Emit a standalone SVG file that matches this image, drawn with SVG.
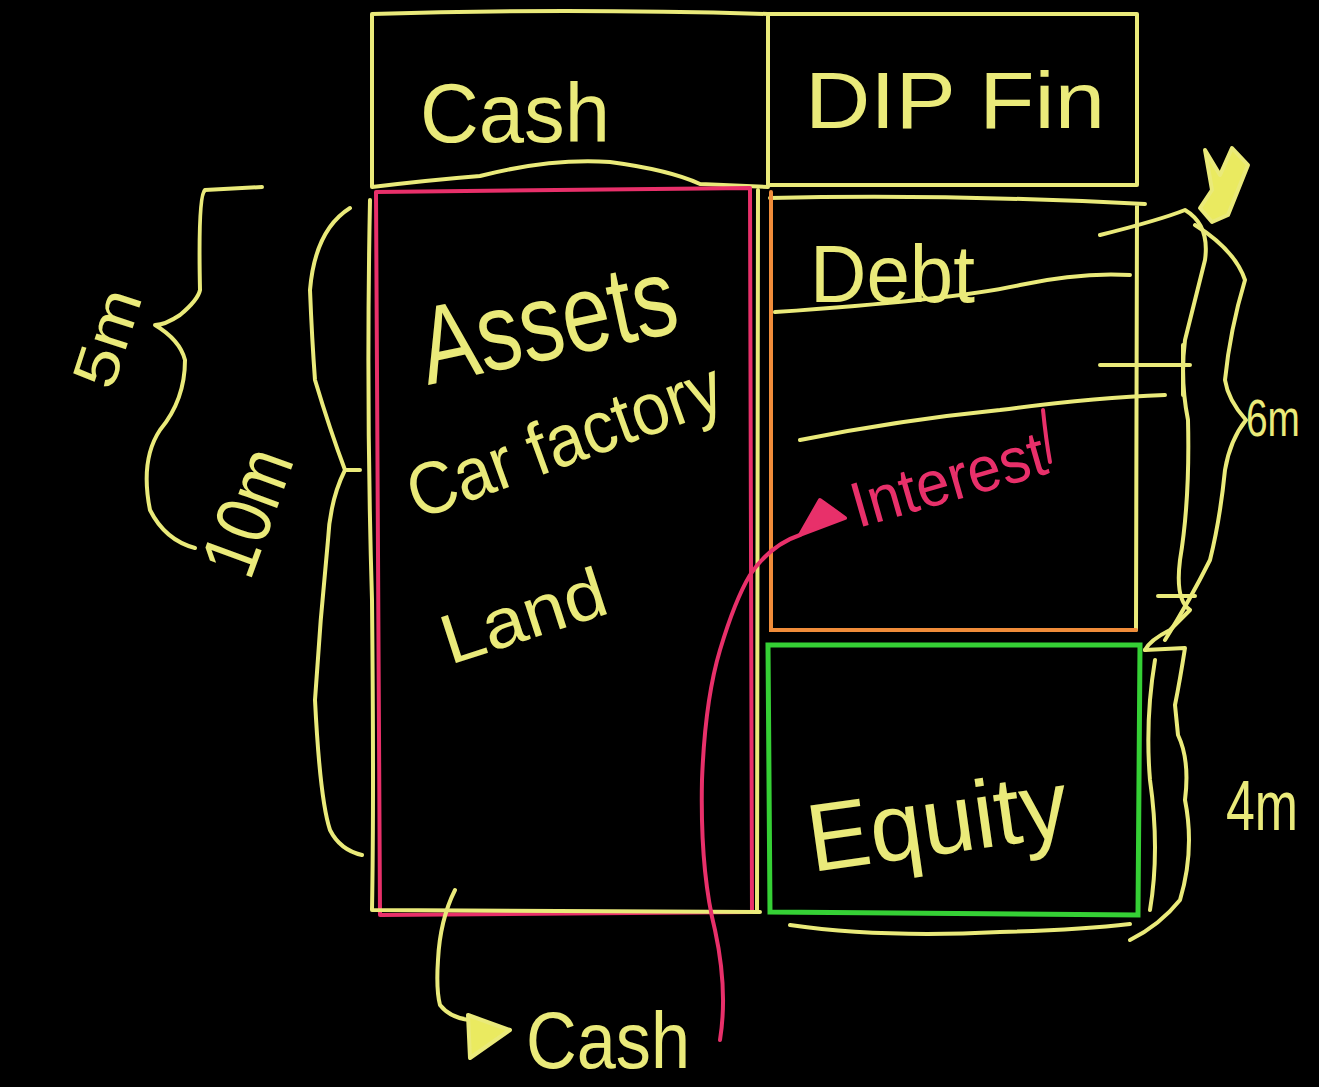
<svg xmlns="http://www.w3.org/2000/svg" width="1319" height="1087" viewBox="0 0 1319 1087">
<defs>
<style>
.y{fill:none;stroke:#eaea7a;stroke-width:4;stroke-linecap:round;stroke-linejoin:round}
.p{fill:none;stroke:#e8306a;stroke-width:4;stroke-linecap:round;stroke-linejoin:round}
.o{fill:none;stroke:#f08c3a;stroke-width:4;stroke-linecap:round}
.g{fill:none;stroke:#35d035;stroke-width:5;stroke-linecap:round}
.fy{fill:#eaea60}
.fp{fill:#e8306a}
.t{font-family:"Liberation Sans","DejaVu Sans",sans-serif;fill:#eaea7a}
.tp{font-family:"Liberation Sans","DejaVu Sans",sans-serif;fill:#e8306a}
</style>
</defs>
<rect width="1319" height="1087" fill="#000"/>

<g id="top-box">
<path class="y" d="M372,14 Q560,8 768,14 L1137,14 L1137,185 L770,185 M768,14 L768,185 M372,14 L372,187 Q430,180 480,176 Q550,158 610,162 Q670,170 700,184 L768,187"/>
<text class="t" x="420" y="142" font-size="84" textLength="190" lengthAdjust="spacingAndGlyphs">Cash</text>
<text class="t" x="805" y="128" font-size="80" textLength="300" lengthAdjust="spacingAndGlyphs">DIP Fin</text>
</g>

<g id="assets">
<path class="p" stroke-width="6" d="M376,192 L750,188 L752,912 L380,915 Z"/>
<path class="y" stroke-width="3" d="M370,200 Q366,400 372,600 Q374,800 372,910 L760,912 M758,190 L757,912"/>
<text class="t" font-size="110" transform="translate(428,385) rotate(-12)" textLength="260" lengthAdjust="spacingAndGlyphs">Assets</text>
<text class="t" font-size="74" transform="translate(418,520) rotate(-20)" textLength="330" lengthAdjust="spacingAndGlyphs">Car factory</text>
<text class="t" font-size="70" transform="translate(450,665) rotate(-18)" textLength="170" lengthAdjust="spacingAndGlyphs">Land</text>
</g>

<g id="debt">
<path class="y" d="M770,198 Q950,194 1145,204 M1137,204 L1136,630"/>
<path class="o" d="M771,192 L771,630 L1136,630"/>
<path class="y" d="M775,312 Q950,300 1020,285 Q1080,272 1130,275"/>
<path class="y" d="M800,440 Q900,420 1000,410 Q1090,398 1165,395"/>
<text class="t" x="810" y="302" font-size="82" textLength="165" lengthAdjust="spacingAndGlyphs">Debt</text>
<text class="tp" font-size="64" transform="translate(858,528) rotate(-16)" textLength="200" lengthAdjust="spacingAndGlyphs">Interest</text>
<path class="p" stroke-width="3" d="M1043,410 Q1046,440 1050,462"/>
</g>

<g id="equity">
<path class="g" d="M768,645 L1140,645 L1138,915 L770,912 Z"/>
<path class="y" d="M790,925 Q880,938 1000,932 Q1080,930 1130,924"/>
<text class="t" font-size="96" transform="translate(812,872) rotate(-8)" textLength="262" lengthAdjust="spacingAndGlyphs">Equity</text>
</g>

<g id="labels">
<text class="t" font-size="62" transform="translate(112,392) rotate(-72)" textLength="100" lengthAdjust="spacingAndGlyphs">5m</text>
<text class="t" font-size="78" transform="translate(250,582) rotate(-70)" textLength="130" lengthAdjust="spacingAndGlyphs">10m</text>
<text class="t" font-size="52" x="1246" y="436" textLength="54" lengthAdjust="spacingAndGlyphs">6m</text>
<text class="t" font-size="58" transform="translate(1226,830) scale(1,1.2)" textLength="72" lengthAdjust="spacingAndGlyphs">4m</text>
<text class="t" font-size="80" x="526" y="1068" textLength="164" lengthAdjust="spacingAndGlyphs">Cash</text>
</g>

<g id="connectors">
<path class="y" d="M262,187 L205,190 Q198,195 200,290 Q198,300 180,315 Q165,325 155,325 Q180,340 185,360 Q185,400 160,430 Q140,460 150,510 Q165,540 195,548"/>
<path class="y" d="M350,208 Q315,230 310,290 Q312,340 315,380 Q330,430 345,470 L360,470 M345,470 Q330,500 328,540 Q320,620 315,700 Q320,800 330,830 Q340,850 362,855"/>
<path class="y" d="M1100,235 Q1160,220 1185,210 Q1210,225 1205,260 Q1195,300 1185,340 Q1180,380 1188,420 Q1190,500 1180,560 Q1175,600 1190,610 L1170,630 Q1150,640 1145,650"/>
<path class="y" d="M1195,225 Q1235,250 1245,280 Q1230,330 1225,380 Q1228,400 1246,420 Q1230,440 1225,470 Q1220,520 1210,560 Q1190,600 1165,640"/>
<path class="y" d="M1100,365 L1190,365 M1183,345 L1183,395 M1158,596 L1195,596"/>
<path class="y fy" stroke-width="5" d="M1205,150 L1220,175 L1232,148 L1248,165 L1238,190 L1228,215 L1212,222 L1200,208 L1212,190 Z"/>
<path class="y" d="M1145,650 L1185,648 Q1180,680 1175,705 L1178,735 Q1190,760 1185,800 Q1195,850 1180,900 Q1160,925 1130,940"/>
<path class="y" d="M1155,660 Q1145,720 1150,780 Q1160,850 1150,910"/>
<path class="y" d="M455,890 Q440,920 438,960 Q436,990 440,1005 Q450,1018 470,1020"/>
<path class="y fy" d="M468,1015 L510,1030 L470,1058 Z"/>
<path class="p" stroke-width="3" d="M720,1040 Q728,990 715,930 Q700,870 702,780 Q705,700 720,650 Q735,600 750,575 Q770,545 800,535"/>
<path class="p fp" stroke-width="3" d="M800,535 L845,518 L820,500 Z"/>
</g>
</svg>
